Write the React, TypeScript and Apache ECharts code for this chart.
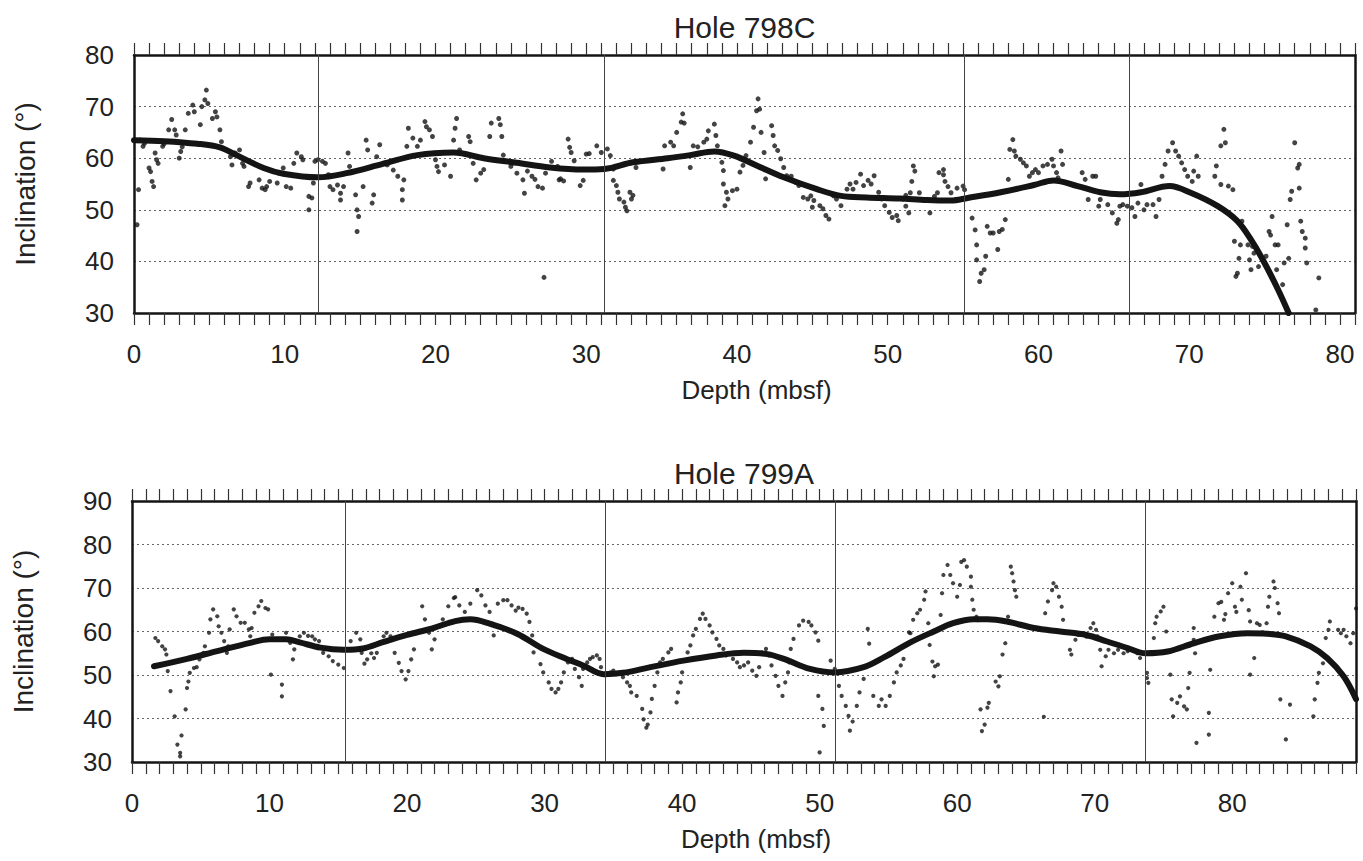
import React, { useEffect, useRef } from "react";
import * as echarts from "echarts";

// ---------- Hole 798C ----------
const hole798CTitle = "Hole 798C";
const hole798CRange = { min: 0, max: 81, yMin: 30, yMax: 80 };
const hole798CBreaks = [12.2, 31.2, 55.1, 66.0];
const hole798CPoints: [number, number][] = [
  [0.2,47.1],[0.3,53.9],[0.4,63.5],[0.7,62.9],[0.6,62.3],[1.0,58.1],[1.1,57.4],[1.2,55.5],[1.3,54.5],[1.4,61],[1.5,59.7],[1.6,59],[1.9,62.3],[2.0,62.8],[2.3,65.5],[2.5,67.5],[2.7,65.5],[2.8,64.5],[3.0,60],[3.1,61.3],[3.2,62.2],[3.4,65.5],[3.6,68.7],[3.9,70.3],[4.0,69],[4.4,66.5],[4.5,70],[4.7,71.3],[4.8,73.2],[4.9,70.6],[5.2,67.7],[5.4,69],[5.5,68],[5.7,65.5],[5.8,63.2],[6.4,60.3],[6.5,58.7],[6.7,61],[7.0,61.6],[7.2,59.0],[7.3,58.4],[7.6,54.5],[7.7,55.2],[8.3,55.8],[8.5,54.2],[8.7,53.9],[8.8,54.5],[9.0,55.5],[9.5,55.2],[9.6,57.1],[9.9,58.1],[10.1,54.5],[10.4,54.2],[10.6,59],[10.8,61],[11.1,60.3],[11.2,59.7],[11.6,52.6],[11.8,52.3],[11.6,50],[11.9,55.2],[12.0,59.4],[12.2,59.7],[12.5,59.4],[12.7,59.0],[12.9,56.8],[13.0,54.5],[13.2,53.9],[13.5,54.8],[13.7,53.2],[13.7,51.9],[13.9,54.5],[14.2,61],[14.3,58.4],[14.7,52.9],[14.8,50],[14.9,48.7],[14.8,45.8],[15.2,54.5],[15.4,63.5],[15.5,61.6],[15.9,52.9],[15.8,51.3],[16.1,60.3],[16.3,62.6],[16.8,58.7],[17.2,57.7],[17.5,56.5],[17.8,53.9],[17.8,51.9],[17.9,55.8],[18.1,62.3],[18.2,65.8],[18.5,63.9],[18.8,62.3],[19.0,63.5],[19.3,67.1],[19.4,66.1],[19.6,65.5],[19.8,64.2],[20.0,59.7],[20.1,58.4],[20.2,57.4],[20.6,58.7],[21.0,56.5],[21.2,63.5],[21.3,65.8],[21.4,67.7],[21.6,61.6],[22.2,64.2],[22.3,63.2],[22.5,59],[22.7,55.8],[23.0,57.1],[23.2,57.8],[23.6,64.2],[23.7,66.8],[24.2,67.7],[24.3,66.5],[24.4,64.2],[24.5,60.6],[25.0,58.4],[25.4,57.1],[25.8,55.8],[25.9,53.2],[26.1,57.5],[26.4,56.5],[26.6,55.9],[26.8,54.5],[27.1,54.2],[27.2,36.9],[27.3,57.1],[27.7,59.4],[28.1,58.4],[28.2,55.8],
  [28.3,56],[28.5,55.6],[28.8,63.7],[28.9,62.1],[29.0,61.1],[29.2,59.5],[29.6,54.7],[29.8,55.7],[30.0,60.8],[30.2,60.9],[30.7,62.4],[31.0,61.1],[31.4,61.8],[31.6,60.5],[31.8,57.9],[31.8,55.7],[32.0,54.7],[32.1,53.4],[32.2,52.1],[32.5,51.5],[32.6,50.5],[32.7,49.8],[32.9,53.4],[33.0,52.1],[33.1,52.8],[33.3,58.2],[35.1,57.9],[35.2,62.4],[35.6,63.1],[35.8,62.4],[36.0,65],[36.3,67],[36.4,68.6],[36.5,66.8],[36.9,58.2],[37.1,62.4],[37.4,62.2],[37.8,63.1],[38.0,63.7],[38.1,65.3],[38.5,66.6],[38.6,64.4],[38.7,62.4],[39.0,59.2],[39.1,57.6],[39.1,55],[39.3,53.4],[39.4,52.1],[39.2,50.8],[39.7,53.7],[40.0,54],[40.2,57.3],[40.4,58.6],[40.6,60.5],[40.9,63.1],[41.1,66],[41.3,69.2],[41.4,71.5],[41.5,69.5],[41.6,65],[41.8,61.1],[41.9,56],[42.3,66.3],[42.4,64.4],[42.5,62.4],[42.7,61.5],[42.9,59.9],[43.1,58.2],[43.3,56.6],[43.6,56.5],[43.9,55.3],[44.1,54.7],[44.4,52.4],[44.7,52.1],[44.9,52.7],[45.1,51.8],[45.0,50.5],[45.5,50.8],[45.7,50.2],[45.9,48.9],[46.1,48.2],[46.4,52.7],[46.6,52.1],[46.9,50.8],[47.3,54],[47.5,55],[47.7,54],[47.9,55.3],[48.2,56.9],[48.4,54.7],[48.7,55.7],[48.9,55],[49.1,56.6],[49.4,53.4],[49.6,52.1],[49.8,50.8],[50.1,49.5],[50.3,48.5],[50.6,48.9],[50.7,47.9],[51.0,52.1],[51.2,52.8],
  [51.2,50.7],[51.4,49.4],[51.5,53.3],[51.6,55.5],[51.7,58.5],[51.8,57.5],[52.1,53.3],[52.5,52],[52.8,49.4],[53.1,52.6],[53.3,53.3],[53.4,57.2],[53.7,57.8],[53.7,56.8],[53.8,55.5],[54.0,54.5],[54.2,53.3],[54.6,54.2],[55.0,54.6],[55.1,53.9],[55.6,48.4],[55.8,46.1],[55.9,43.2],[55.9,40.3],[56.1,36.1],[56.2,37.7],[56.4,38.4],[56.5,41],[56.6,46.8],[56.8,45.5],[57.0,45.5],[57.3,42.3],[57.4,45.8],[57.6,46.2],[57.8,48.1],[58.0,55.9],[58.1,61.7],[58.3,63.6],[58.4,61.4],[58.5,60.4],[58.8,59.8],[59.0,59.1],[59.2,58.5],[59.4,56.5],[59.6,57.2],[59.8,57.8],[60.0,57.2],[60.3,58.5],[60.6,58.8],[60.9,59.8],[61.0,58.5],[61.2,57.2],[61.5,61.4],[61.6,58.8],[61.3,56.2],[62.9,57.2],[63.1,55.9],[63.3,52],[63.6,56.5],[63.8,56.5],[64.0,50.7],[64.1,52],[64.6,51],[64.9,49.4],[65.2,47.4],[65.3,48.1],[65.4,50.7],[65.6,51],[65.9,50.7],[66.2,50.4],[66.4,48.7],[66.6,51.3],[66.8,54.9],[67.0,50],[67.2,51],[67.6,51],[67.8,48.7],[68.0,52],[68.2,56.5],[68.4,58.8],[68.6,61.4],[68.9,63],[69.1,61.4],[69.3,60.4],[69.5,59.1],[69.7,57.8],[69.9,56.5],[70.2,55.5],[70.3,57.5],[70.5,60.4],[70.6,56.5],[71.7,56.5],[71.8,58.5],[72.1,54.9],[72.1,62.4],[72.3,65.6],[72.4,63],[72.6,54.6],[72.9,53.9],[73.0,43.9],[73.1,37.1],[73.2,37.7],[73.3,40.6],[73.4,43.2],[73.5,47.8],[73.6,46.5],[73.9,43.2],[74.0,40.3],[74.1,38.4],[74.2,42.9],[74.3,41.6],[74.6,39],[74.9,40.3],[75.1,41],[75.3,45.8],[75.4,45.1],[75.5,48.7],[75.7,43.2],[75.8,38.4],[75.9,43.2],[76.2,35.5],[76.3,39.7],[76.6,40.6],[76.5,47.1],[76.7,52],[76.8,53.6],[77.0,63],[77.2,58.1],[77.3,58.8],[77.3,54.2],[77.4,47.8],[77.5,45.8],[77.7,44.5],[77.7,42.6],[77.8,39.7],[78.6,36.8],[78.4,30.6]
];
const hole798CTrend: [number, number][] = [
  [0,63.5],[2,63.3],[4.2,62.8],[5.7,62.1],[6.8,60.6],[8.6,58.1],[9.9,57],[12.2,56.3],[14.1,57.1],[16.5,58.9],[18.8,60.6],[21.2,61.1],[23.2,60],[25.4,59.1],[27.6,58.2],[29.8,57.8],[31.2,57.9],[33.1,59.2],[35.4,60],[36.9,60.6],[38.5,61.3],[39.8,60.5],[41.3,58.6],[43.1,56.3],[45.3,54],[46.9,52.7],[48.6,52.4],[50.8,52.2],[52.6,51.9],[54.2,51.8],[55.3,52.3],[57.5,53.4],[59.7,54.8],[61.0,55.7],[62.6,54.6],[64.1,53.4],[65.4,53],[66.8,53.4],[68.7,54.6],[70.1,53.3],[71.9,50.7],[73.2,47.8],[74.1,44.2],[75,39.7],[75.9,34.5],[76.6,30]
];

// ---------- Hole 799A ----------
const hole799ATitle = "Hole 799A";
const hole799ARange = { min: 0, max: 89, yMin: 30, yMax: 90 };
const hole799ABreaks = [15.5, 34.4, 51.1, 73.7];
const hole799APoints: [number, number][] = [
  [1.7,58.5],[1.9,57.8],[2.2,56.6],[2.4,55.9],[2.5,54.7],[2.6,50.9],[2.8,46.3],[3.1,40.5],[3.3,34],[3.5,32.1],[3.5,31.3],[3.6,36.1],[3.9,42.1],[4.0,47],[4.1,48.5],[4.2,50.5],[4.5,51.6],[4.7,51.8],[4.9,53.6],[5.2,55.1],[5.3,56.6],[5.6,59.7],[5.7,62.8],[5.9,65.1],[6.2,63.5],[6.3,61.2],[6.5,59.7],[6.7,57.8],[6.9,55.1],[7.0,56.6],[7.1,60.5],[7.4,65.1],[7.6,63.5],[7.9,62],[8.2,62],[8.5,60.5],[8.6,58.9],[8.7,60.8],[8.9,64.3],[9.2,65.8],[9.4,67],[9.7,65.4],[9.9,65.1],[10.1,50.1],[10.2,59.3],[10.9,47.8],[10.9,45.1],[11.2,59.7],[11.5,57.4],[11.7,53.6],[11.8,55.9],[12.2,58.9],[12.5,59.7],[12.8,59.0],[13.1,58.9],[13.3,58.2],[13.6,57.8],[13.9,55.1],[14.3,54.3],[14.6,53.2],[15.0,52.4],[15.4,51.6],[15.7,55.9],[15.9,57.8],[16.3,59.7],[16.6,58.2],[16.7,55.1],[16.9,52.6],[17.1,53.6],[17.4,55.0],[17.6,53.9],[17.8,55.1],[18.3,58.9],[18.5,59.7],[18.8,58.9],[19.1,55.1],[19.4,52.8],[19.6,50.9],[19.9,49],[20.1,50.9],[20.3,53.6],[20.5,55.9],[21.1,65.8],[21.3,62.8],[21.6,59.7],[21.8,55.9],[22.0,58.2],[22.4,61.2],[22.6,62.8],[23.0,65.8],[23.4,67.7],
  [23.5,67.9],[23.8,66],[24.2,64.5],[24.6,66.4],[25.1,69.5],[25.4,68.3],[25.7,66],[26.0,64.5],[26.2,61.8],[26.3,59.1],[26.6,66.4],[27.0,67.2],[27.3,67.2],[27.6,66],[27.9,64.8],[28.1,65.5],[28.4,65.2],[28.7,64.1],[28.9,62.2],[29.1,59.1],[29.2,55.2],[29.7,52.5],[29.9,50.6],[30.3,48.3],[30.5,46.8],[30.8,46],[31.0,46.8],[31.2,48.3],[31.4,50.6],[31.7,52.9],[32.0,53.7],[32.2,51.4],[32.5,49.5],[32.7,47.5],[32.8,51.4],[33.1,52.9],[33.3,53.7],[33.5,54.1],[33.8,54.5],[34.0,53.7],[34.1,51.8],[34.8,50.6],[35.0,51.0],[35.2,50.2],[35.7,49.5],[36.0,48.3],[36.2,47.5],[36.3,46],[36.7,45.2],[37.1,42.2],[37.2,39.8],[37.4,37.9],[37.5,38.6],[37.7,41.4],[37.8,44.5],[38.0,47.5],[38.2,50.6],[38.4,52.9],[38.6,53.7],[39.0,55.2],[39.2,56],[39.6,43.7],[39.7,46],[39.9,48.3],[40.0,50.6],[40.1,53.3],[40.4,55.2],[40.6,56.8],[40.8,59.1],[41.0,60.6],[41.3,62.9],[41.5,64.1],[41.7,62.9],[42.0,61.4],[42.2,59.8],[42.5,58.3],[42.7,56.8],[43.0,56],[43.2,54.5],[43.7,53.7],[44.0,52.9],[44.2,51.8],[44.5,52.2],[44.8,52.9],[45.1,51],[45.4,49.8],[45.6,51.8],[45.8,55.2],[46.1,56],[46.3,54.5],[46.5,52.2],[46.8,49.8],[47.0,47.5],[47.3,45.2],[47.5,48.3],[47.7,50.6],[47.8,52.9],[47.9,56],[48.1,58.3],[48.5,61.4],[48.8,62.5],[49.2,62.2],[49.4,61.4],[49.7,59.8],[49.9,57.9],[49.9,45.2],[50.2,42.2],[50.3,38.3],[50.0,32.2],[50.8,53.3],[51.1,51.4],[51.4,47.5],[51.6,45.2],[51.9,42.9],[52.1,40.6],[52.2,37.2],[52.4,39.3],[52.7,42.9],[52.9,46],[53.2,49.1],[53.4,51.8],[53.5,60.6],[53.6,57.2],[53.9,45.2],[54.3,42.9],[54.5,44.4],[54.8,42.9],[55.1,45.2],[55.4,48.3],[55.6,50.6],[55.9,52.2],[56.1,53.7],[56.5,59.8],
  [56.6,59.6],[56.8,62.7],[57.1,64.2],[57.3,65],[57.6,67.3],[57.7,69.2],[57.9,61.9],[58.0,56.9],[58.2,53.1],[58.3,49.7],[58.4,52],[58.6,52.4],[58.8,63.8],[58.9,68.8],[59.0,73],[59.3,75.3],[59.5,73],[59.7,71.1],[60.0,68],[60.2,70.7],[60.3,76],[60.5,76.4],[60.7,74.9],[61.0,72.6],[61.0,70.3],[61.1,67.3],[61.2,65],[61.4,63.4],[61.5,62.6],[61.7,42.1],[61.8,37.1],[62.0,38.6],[62.2,42.5],[62.3,43.6],[62.8,48.5],[63.0,47.4],[63.1,49.7],[63.3,54.7],[63.5,57.3],[63.7,63.4],[63.9,74.9],[64.0,73.4],[64.1,71.5],[64.2,69.5],[64.3,68],[66.3,40.4],[66.4,64.2],[66.6,66.9],[66.9,69.5],[67.0,71.1],[67.2,70.3],[67.4,68],[67.6,65.7],[67.7,62.7],[68.2,55.8],[68.3,54.7],[68.6,58.1],[68.8,59.2],[69.2,59.6],[69.4,58.8],[69.7,60.8],[69.9,61.9],[70.1,60.4],[70.2,58.9],[70.4,55.8],[70.5,52],[70.8,54.3],[71.0,55.8],[71.4,55],[71.7,55.8],[72.1,55],[72.4,55.5],[72.8,55.8],[73.1,55],[73.3,53.9],[73.8,50.5],[73.9,48.2],[73.8,49.3],[74.3,58.5],[74.4,61.9],[74.5,63.4],[74.8,64.6],[75.0,65.7],[75.2,60],[75.5,50.1],[75.6,44.4],[75.7,40.5],[76.0,43.6],[76.2,45.1],[76.5,42.8],[76.7,42.1],[76.8,47],[76.9,50.5],[77.2,58.1],[77.2,60.8],[77.3,55],[77.4,34.4],[78.3,41.3],[78.3,36.3],[78.4,51.2],[78.7,63.4],[79.0,66.5],[79.2,66.8],[79.4,62.7],[79.5,64.0],[79.7,68.8],[80.0,71.1],[80.2,65.7],[80.3,64.5],[80.6,70.3],[80.7,67.3],[81.0,73.4],[81.2,64.9],[81.3,62.3],[81.6,53.9],[81.3,50.1],[81.8,61.9],[82.0,61.5],[82.2,59.8],[82.5,61.9],[82.6,65.7],[82.7,68],[83.0,71.5],[83.1,70],[83.3,66.5],[83.4,64.2],[83.5,44.4],[83.9,35.2],[84.2,43.2],[85.9,40.5],[86.0,44.4],[86.2,48.2],[86.3,50.5],[86.6,52.7],[86.8,58.5],[87.0,60.4],[87.1,62.3],[87.7,60.4],[87.9,59.6],[88.1,60.4],[88.3,58.9],[88.6,57.3],[88.8,59.6],[89.0,65.3]
];
const hole799ATrend: [number, number][] = [
  [1.6,52.0],[4.0,53.7],[6.2,55.5],[8.6,57.4],[10.0,58.2],[11.2,58.2],[12.2,57.5],[13.7,56.3],[15.4,55.8],[16.8,56.1],[18.3,57.6],[20,59.2],[21.9,60.8],[23.5,62.4],[24.6,62.8],[26.0,61.8],[28.0,59.5],[29.9,56],[31.6,53.7],[32.8,52.2],[34.3,50.2],[35.7,50.5],[37.7,51.8],[40.1,53.3],[42.5,54.5],[44.5,55.1],[46.2,54.8],[47.4,53.7],[49.3,51.4],[51.1,50.6],[53.2,51.8],[54.7,54.1],[56.6,57.5],[58.3,60],[59.7,61.9],[61.2,62.8],[62.2,62.8],[63.6,62.3],[65.6,60.8],[67.5,60],[69.4,59.2],[70.9,57.7],[72.4,56.2],[73.7,55],[75.3,55.4],[77.2,57.3],[79.1,58.9],[81.1,59.6],[82.5,59.5],[83.9,58.9],[85.7,56.6],[86.9,53.9],[88.1,49.7],[89,44.5]
];

const xAxisTitle = "Depth (mbsf)";
const yAxisTitle = "Inclination (°)";

const FONT = "'Liberation Sans', Arial, Helvetica, sans-serif";
const INK = "#141414";

const panels = [
  { title: hole798CTitle, range: hole798CRange, breaks: hole798CBreaks, points: hole798CPoints, trend: hole798CTrend,
    grid: { left: 134, top: 55, width: 1221, height: 258 }, dot: 5 },
  { title: hole799ATitle, range: hole799ARange, breaks: hole799ABreaks, points: hole799APoints, trend: hole799ATrend,
    grid: { left: 132, top: 501, width: 1224, height: 261 }, dot: 4.2 },
];

function buildOption() {
  const grid: any[] = [];
  const xAxis: any[] = [];
  const yAxis: any[] = [];
  const series: any[] = [];
  const graphic: any[] = [];
  const border = { show: true, onZero: false, lineStyle: { color: INK, width: 2.5 } };
  const tick = { show: true, inside: false, length: 12, lineStyle: { color: "#333", width: 1.2 } };

  panels.forEach((p, i) => {
    grid.push({ ...p.grid, containLabel: false });
    const xBase = { gridIndex: i, type: "value", min: p.range.min, max: p.range.max, interval: 1,
      axisLine: border, axisTick: tick, splitLine: { show: false } };
    xAxis.push({
      ...xBase, position: "bottom",
      axisLabel: {
        show: true, margin: 28, fontSize: 26, color: "#222", fontFamily: FONT,
        formatter: (v: number) => {
          const r = Math.round(v);
          return Math.abs(v - r) < 1e-6 && r % 10 === 0 ? String(r) : "";
        },
      },
      name: xAxisTitle, nameLocation: "middle", nameGap: 64,
      nameTextStyle: { fontSize: 26, color: "#222", fontFamily: FONT, padding: [0, 0, 0, 24] },
    });
    xAxis.push({ ...xBase, position: "top", axisLabel: { show: false } });
    yAxis.push({
      gridIndex: i, type: "value", min: p.range.yMin, max: p.range.yMax, interval: 10, position: "left",
      axisLine: border, axisTick: { show: false },
      axisLabel: { margin: 20, fontSize: 26, color: "#222", fontFamily: FONT },
      splitLine: { show: true, lineStyle: { color: "#666", width: 1.2, type: [2, 3] } },
      name: yAxisTitle, nameLocation: "middle", nameGap: 95,
      nameTextStyle: { fontSize: 28, color: "#222", fontFamily: FONT },
    });
    yAxis.push({
      gridIndex: i, type: "value", min: p.range.yMin, max: p.range.yMax, interval: 10, position: "right",
      axisLine: border, axisTick: { show: false }, axisLabel: { show: false }, splitLine: { show: false },
    });
    series.push({
      type: "scatter", xAxisIndex: i * 2, yAxisIndex: i * 2, data: p.points,
      symbol: "circle", symbolSize: p.dot, itemStyle: { color: INK }, z: 3,
      markLine: {
        silent: true, symbol: ["none", "none"], label: { show: false },
        lineStyle: { color: "#444", width: 1, type: "solid" },
        data: p.breaks.map((b) => ({ xAxis: b })),
      },
    });
    series.push({
      type: "line", xAxisIndex: i * 2, yAxisIndex: i * 2, data: p.trend, smooth: 0.35,
      showSymbol: false, symbol: "none", clip: true,
      lineStyle: { color: INK, width: 6, cap: "round", join: "round" }, z: 4,
    });
    const cx = p.grid.left + p.grid.width / 2;
    graphic.push({
      type: "text", x: cx, y: p.grid.top - 28,
      style: { text: p.title, fontSize: 30, fontFamily: FONT, fill: "#222",
        align: "center", verticalAlign: "middle", textAlign: "center", textVerticalAlign: "middle" },
    });
  });

  return { animation: false, backgroundColor: "#ffffff", grid, xAxis, yAxis, series, graphic };
}

export default function App() {
  const ref = useRef<HTMLDivElement>(null);
  useEffect(() => {
    if (!ref.current) return;
    const chart = echarts.init(ref.current, undefined, { renderer: "svg" });
    chart.setOption(buildOption() as any);
    return () => chart.dispose();
  }, []);
  return (
    <div
      ref={ref}
      style={{ position: "absolute", left: 0, top: 0, width: 1363, height: 861, background: "#fff" }}
    />
  );
}
